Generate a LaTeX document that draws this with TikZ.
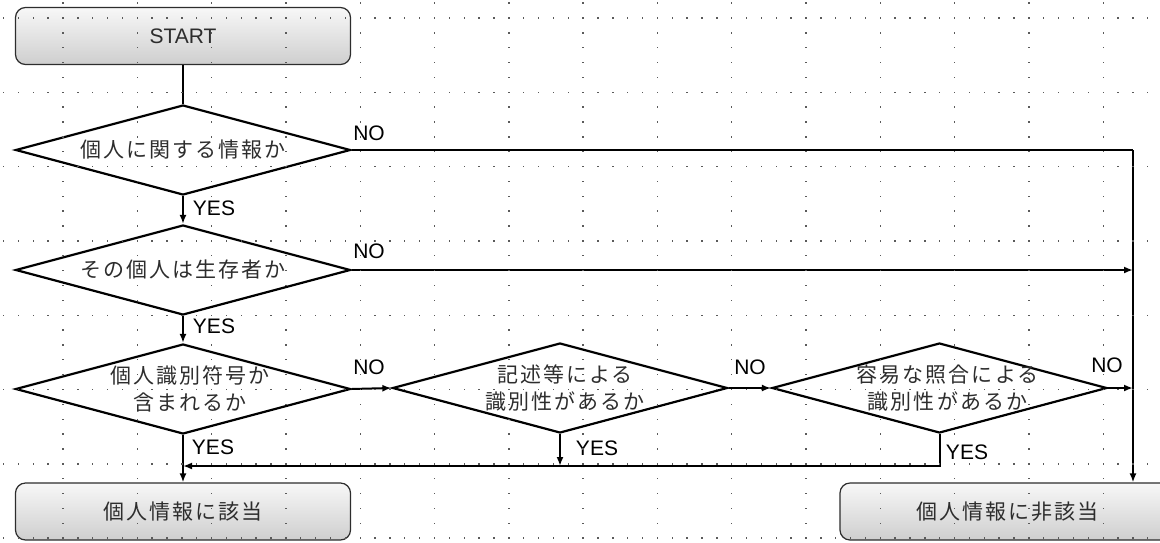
\documentclass[tikz,border=0pt]{standalone}
\usepackage{fontspec}
\setmainfont{Liberation Sans}
\newfontfamily\jp{Noto Sans CJK JP}[LetterSpace=10]
\usetikzlibrary{shapes.geometric,arrows.meta,calc}
\definecolor{inkgray}{RGB}{45,45,45}
\definecolor{dotgray}{RGB}{90,90,90}

\begin{document}
\begin{tikzpicture}[x=1pt,y=-1pt]
\tikzset{term/.style={draw=inkgray,line width=1.2pt,rounded corners=10pt,top color=gray!6,bottom color=gray!38,minimum width=335pt,minimum height=57pt,inner sep=0pt,text=inkgray,font=\fontsize{21}{27}\selectfont},
ask/.style={diamond,draw,line width=2.2pt,minimum width=335pt,minimum height=90pt,inner sep=0pt},
qtext/.style={align=center,inner sep=0pt,text=inkgray,font=\jp\fontsize{21}{27}\selectfont},
ans/.style={inner sep=0pt,font=\fontsize{21}{21}\selectfont},
link/.style={line width=2pt},
flow/.style={line width=2pt,-{Latex[length=9pt,width=7pt]}}}

\clip (0,0) rectangle (1160,542);

% start / end
\node[term] (start) at (183,36) {START};
\node[term] (ok) at (183,511.5) {\jp 個人情報に該当};
\node[term] (ng) at (1007.5,511.5) {\jp 個人情報に非該当};

% questions
\node[ask] (d1) at (183,150) {};
\node[qtext] (t1) at (d1) {個人に関する情報か};
\node[ask] (d2) at (183,270) {};
\node[qtext] (t2) at (d2) {その個人は生存者か};
\node[ask] (d3) at (183,389) {};
\node[qtext,xshift=7pt] (t3) at (d3) {個人識別符号か\\含まれるか};
\node[ask] (d4) at (560,388) {};
\node[qtext,xshift=5pt] (t4) at (d4) {記述等による\\識別性があるか};
\node[ask] (d5) at (939.5,388) {};
\node[qtext,xshift=8pt] (t5) at (d5) {容易な照合による\\識別性があるか};

\coordinate (rail) at (1133,150);
\coordinate (bus) at (0,466);

% connectors
\draw[link] (start.south) -- (d1.north);
\draw[flow] (d1.south) -- (d2.north);
\draw[flow] (d2.south) -- (d3.north);
\draw[flow] (d3.south) -- (ok.north);
\draw[link] (d1.east) -- (rail);
\draw[flow] (rail) -- (rail |- ng.north);
\draw[flow] (d2.east) -- (d2.east -| rail);
\draw[flow] (d3.east) -- (d4.west);
\draw[flow] (d4.east) -- (d5.west);
\draw[flow] (d5.east) -- (d5.east -| rail);
\draw[flow] (d4.south) -- (d4.south |- bus);
\draw[flow] (d5.south) |- (d3.south |- bus);

% answers
\node[ans] (no1) at (369,133) {NO};
\node[ans] (yes1) at (214,208) {YES};
\node[ans] (no2) at (369,251) {NO};
\node[ans] (yes2) at (214,326) {YES};
\node[ans] (no3) at (369,367) {NO};
\node[ans] (yes3) at (213,447) {YES};
\node[ans] (no4) at (750,367) {NO};
\node[ans] (yes4) at (597,448) {YES};
\node[ans] (no5) at (1107,365) {NO};
\node[ans] (yes5) at (967,452) {YES};

% dotted grid
\foreach \i in {0,...,14}
  \foreach \j in {0,...,36}
    \fill[dotgray] ({63+74.3*\i-0.7},{3.14+14.86*\j-0.7}) rectangle ++(1.4,1.4);
\foreach \j in {0,...,7}
  \foreach \i in {0,...,77}
    \fill[dotgray] ({3.56+14.86*\i-0.7},{18+74.3*\j-0.7}) rectangle ++(1.4,1.4);
\end{tikzpicture}
\end{document}
